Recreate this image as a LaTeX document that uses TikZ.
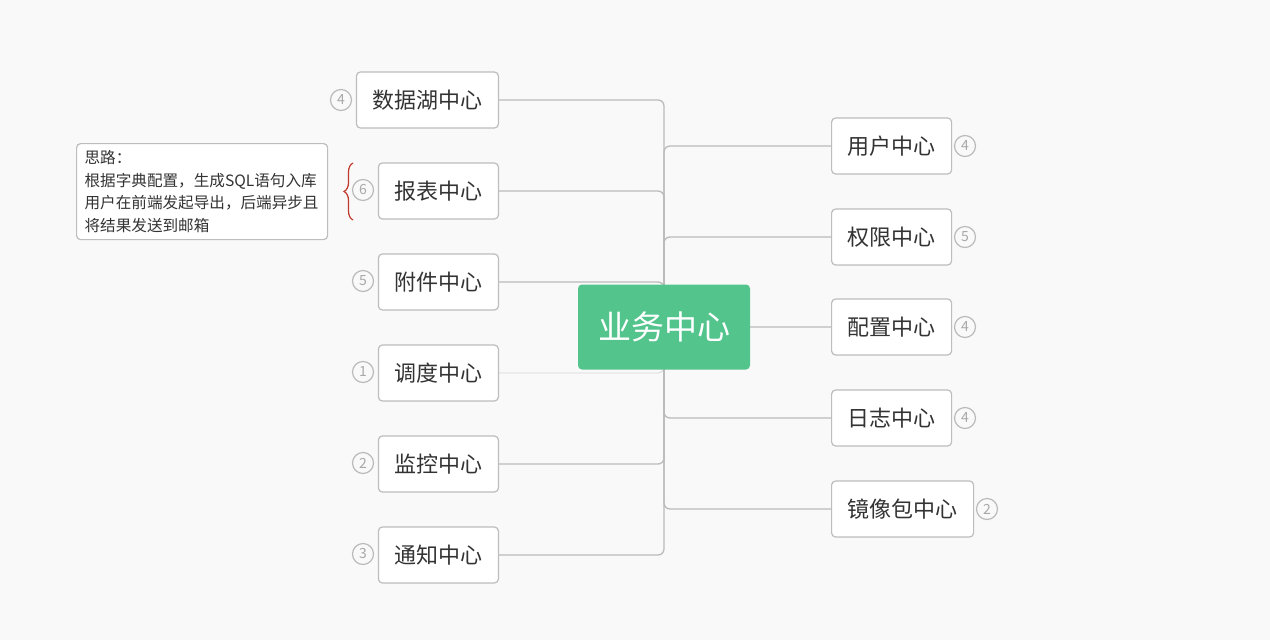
\documentclass[tikz,border=0pt]{standalone}
\usepackage{fontspec}
\setmainfont{Noto Sans CJK SC}
\usetikzlibrary{decorations.pathreplacing,backgrounds}

\definecolor{bgGray}{HTML}{F9F9F9}
\definecolor{hubGreen}{HTML}{52C48C}
\definecolor{lineGray}{HTML}{BBBBBB}
\definecolor{boxGray}{HTML}{BDBDBD}
\definecolor{txtGray}{HTML}{333333}
\definecolor{numGray}{HTML}{A8A8A8}
\definecolor{braceRed}{HTML}{C0392B}

\tikzset{every picture/.style={line width=1pt},
  hubbox/.style={fill=hubGreen, rounded corners=4pt, minimum width=172pt, minimum height=85pt, text=white, font=\fontsize{33}{36}\selectfont},
  topic/.style={draw=boxGray, fill=white, line width=1.2pt, rounded corners=4pt, minimum height=56pt, inner xsep=16pt, text=txtGray, font=\fontsize{22}{24}\selectfont},
  badge/.style={circle, draw=lineGray, line width=1.2pt, minimum size=21pt, inner sep=0pt, text=numGray, font=\fontsize{14}{14}\selectfont},
  notebox/.style={draw=boxGray, fill=white, line width=1.2pt, rounded corners=4pt, minimum width=251pt, minimum height=96pt, text width=235pt, inner xsep=8pt, align=left, text=txtGray, font=\fontsize{15.6}{22.5}\selectfont},
  conn/.style={draw=lineGray, line width=1.3pt, rounded corners=6pt}}

\begin{document}
\begin{tikzpicture}[x=1pt,y=1pt,yscale=-1]
\useasboundingbox (0,0) rectangle (1270,640);

% Central topic
\node[hubbox] (hub) at (664,327) {业务中心};

% Left topics
\node[topic, anchor=east] (lake) at (499,100) {数据湖中心};
\node[topic, anchor=east] (report) at (499,191) {报表中心};
\node[topic, anchor=east] (attach) at (499,282) {附件中心};
\node[topic, anchor=east] (sched) at (499,373) {调度中心};
\node[topic, anchor=east] (monitor) at (499,464) {监控中心};
\node[topic, anchor=east] (notify) at (499,555) {通知中心};

% Right topics
\node[topic, anchor=west] (user) at (831,146) {用户中心};
\node[topic, anchor=west] (perm) at (831,237) {权限中心};
\node[topic, anchor=west] (conf) at (831,327) {配置中心};
\node[topic, anchor=west] (log) at (831,418) {日志中心};
\node[topic, anchor=west] (mirror) at (831,509) {镜像包中心};

% Badges
\node[badge] (nLake) at (341,100) {4};
\node[badge] (nReport) at (363,190) {6};
\node[badge] (nAttach) at (363,281) {5};
\node[badge] (nSched) at (363,372) {1};
\node[badge] (nMonitor) at (363,463) {2};
\node[badge] (nNotify) at (363,554) {3};
\node[badge] (nUser) at (965,146) {4};
\node[badge] (nPerm) at (965,237) {5};
\node[badge] (nConf) at (965,327) {4};
\node[badge] (nLog) at (965,418) {4};
\node[badge] (nMirror) at (987,509) {2};

% Note and its brace
\node[notebox, anchor=north west] (idea) at (76,143) {思路：\\根据字典配置，生成SQL语句入库\\用户在前端发起导出，后端异步且\\将结果发送到邮箱};
\coordinate (braceTop) at (353,163);
\coordinate (braceBot) at (353,220);
\draw[braceRed, line width=1.2pt, decorate, decoration={brace, amplitude=9pt}] (braceBot) -- (braceTop);

% Connectors
\begin{scope}[on background layer]
\fill[bgGray] (0,0) rectangle (1270,640);
\foreach \n in {lake,report,attach,monitor,notify}
  \draw[conn] (hub.center) |- (\n.east);
\draw[conn, draw=lineGray!60, line width=0.8pt] (hub.center) |- (sched.east);
\foreach \n in {user,perm,conf,log,mirror}
  \draw[conn] (hub.center) |- (\n.west);
\end{scope}

\end{tikzpicture}
\end{document}
